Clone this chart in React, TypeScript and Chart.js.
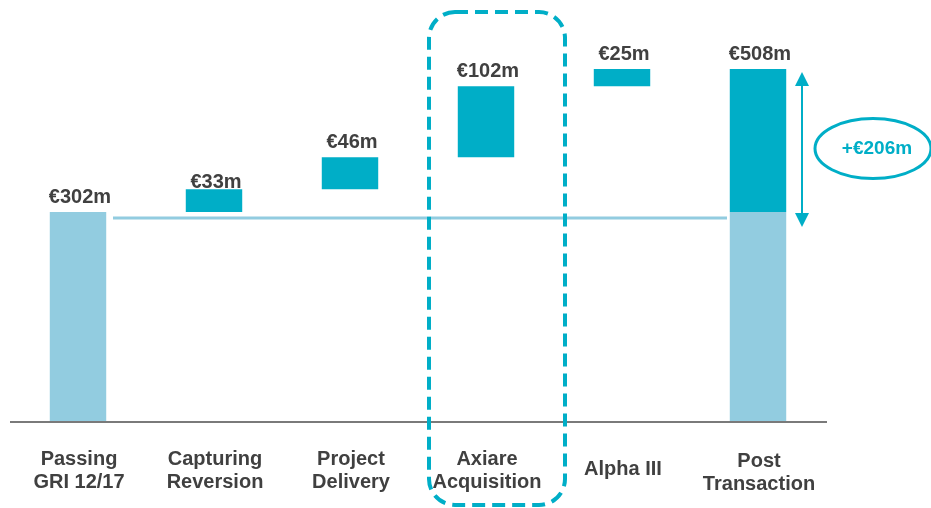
import React, { useEffect, useRef } from "react";
import { Chart, registerables } from "chart.js";

Chart.register(...registerables);

const categories: string[][] = [
  ["Passing", "GRI 12/17"],
  ["Capturing", "Reversion"],
  ["Project", "Delivery"],
  ["Axiare", "Acquisition"],
  ["Alpha III"],
  ["Post", "Transaction"],
];
const startValue = 302;
const increments = [33, 46, 102, 25];
const endValue = 508;
const valueLabels = ["€302m", "€33m", "€46m", "€102m", "€25m", "€508m"];
const growthLabel = "+€206m";

const DARK = "#00AEC7";
const LIGHT = "#92CCE0";
const TEXT = "#404040";
const FONT = '"Liberation Sans", Arial, sans-serif';

export default function App() {
  const ref = useRef<HTMLCanvasElement | null>(null);

  useEffect(() => {
    if (!ref.current) return;

    const light: any[] = [[0, startValue], null, null, null, null, [0, startValue]];
    const dark: any[] = [null];
    let acc = startValue;
    for (const inc of increments) {
      dark.push([acc, acc + inc]);
      acc += inc;
    }
    dark.push([startValue, endValue]);
    const tops = [startValue, ...dark.slice(1).map((d: number[]) => d[1])];

    const overlay = {
      id: "overlay",
      afterDraw(chart: any) {
        const ctx = chart.ctx;
        const xs = chart.scales.x;
        const ys = chart.scales.y;
        const area = chart.chartArea;
        const y0 = ys.getPixelForValue(0);
        const yStart = ys.getPixelForValue(startValue);
        const yEnd = ys.getPixelForValue(endValue);
        const cx = (i: number) => xs.getPixelForValue(i);
        ctx.save();

        // baseline axis
        ctx.strokeStyle = "#7a7a7a";
        ctx.lineWidth = 2;
        ctx.beginPath();
        ctx.moveTo(area.left, y0);
        ctx.lineTo(area.right + 1, y0);
        ctx.stroke();

        // connector line
        ctx.strokeStyle = LIGHT;
        ctx.lineWidth = 3;
        ctx.beginPath();
        ctx.moveTo(cx(0) + 35, yStart + 6);
        ctx.lineTo(cx(5) - 31, yStart + 6);
        ctx.stroke();

        // dashed rounded box around Axiare
        const bl = cx(3) - 57, br = cx(3) + 79, bt = 12, bb = 505, r = 26;
        ctx.strokeStyle = DARK;
        ctx.lineWidth = 4;
        ctx.setLineDash([13, 7]);
        ctx.beginPath();
        ctx.moveTo(bl + r, bt);
        ctx.lineTo(br - r, bt);
        ctx.arcTo(br, bt, br, bt + r, r);
        ctx.lineTo(br, bb - r);
        ctx.arcTo(br, bb, br - r, bb, r);
        ctx.lineTo(bl + r, bb);
        ctx.arcTo(bl, bb, bl, bb - r, r);
        ctx.lineTo(bl, bt + r);
        ctx.arcTo(bl, bt, bl + r, bt, r);
        ctx.closePath();
        ctx.stroke();
        ctx.setLineDash([]);

        // double arrow
        const ax = cx(5) + 44;
        const aTop = yEnd + 3;
        const aBot = yStart + 15;
        ctx.strokeStyle = DARK;
        ctx.fillStyle = DARK;
        ctx.lineWidth = 2;
        ctx.beginPath();
        ctx.moveTo(ax, aTop + 10);
        ctx.lineTo(ax, aBot - 10);
        ctx.stroke();
        ctx.beginPath();
        ctx.moveTo(ax, aTop);
        ctx.lineTo(ax - 7, aTop + 14);
        ctx.lineTo(ax + 7, aTop + 14);
        ctx.closePath();
        ctx.fill();
        ctx.beginPath();
        ctx.moveTo(ax, aBot);
        ctx.lineTo(ax - 7, aBot - 14);
        ctx.lineTo(ax + 7, aBot - 14);
        ctx.closePath();
        ctx.fill();

        // ellipse with growth label
        const ex = cx(5) + 115;
        const ey = (yEnd + yStart) / 2 + 8;
        ctx.lineWidth = 3;
        ctx.beginPath();
        ctx.ellipse(ex, ey, 58, 30, 0, 0, Math.PI * 2);
        ctx.stroke();
        ctx.font = `bold 19px ${FONT}`;
        ctx.textAlign = "center";
        ctx.textBaseline = "alphabetic";
        ctx.fillStyle = DARK;
        ctx.fillText(growthLabel, ex + 4, ey + 5);

        // value labels
        ctx.fillStyle = TEXT;
        ctx.font = `bold 20px ${FONT}`;
        tops.forEach((v: number, i: number) => {
          const off = i === 1 ? 1 : 9;
          ctx.fillText(valueLabels[i], cx(i) + 2, ys.getPixelForValue(v) - off);
        });

        // category labels
        ctx.font = `bold 20px ${FONT}`;
        categories.forEach((lines, i) => {
          let base = 465;
          if (lines.length === 1) base = 475;
          if (i === 5) base = 467;
          lines.forEach((t, k) => ctx.fillText(t, cx(i) + 1, base + k * 23));
        });

        ctx.restore();
      },
    };

    const chart = new Chart(ref.current, {
      type: "bar",
      data: {
        labels: categories.map((c) => c.join(" ")),
        datasets: [
          {
            data: light,
            backgroundColor: LIGHT,
            grouped: false,
            barPercentage: 0.415,
            categoryPercentage: 1,
          } as any,
          {
            data: dark,
            backgroundColor: DARK,
            grouped: false,
            barPercentage: 0.415,
            categoryPercentage: 1,
          } as any,
        ],
      },
      options: {
        animation: false,
        responsive: true,
        maintainAspectRatio: false,
        layout: { padding: { left: 10, right: 105, top: 5, bottom: 86 } },
        plugins: { legend: { display: false }, tooltip: { enabled: false } },
        scales: {
          x: { display: false },
          y: { display: false, min: 0, max: 600 },
        },
      },
      plugins: [overlay],
    });
    return () => chart.destroy();
  }, []);

  return (
    <div style={{ position: "absolute", left: 0, top: 0, width: 931, height: 508, background: "#fff" }}>
      <canvas ref={ref} />
    </div>
  );
}
